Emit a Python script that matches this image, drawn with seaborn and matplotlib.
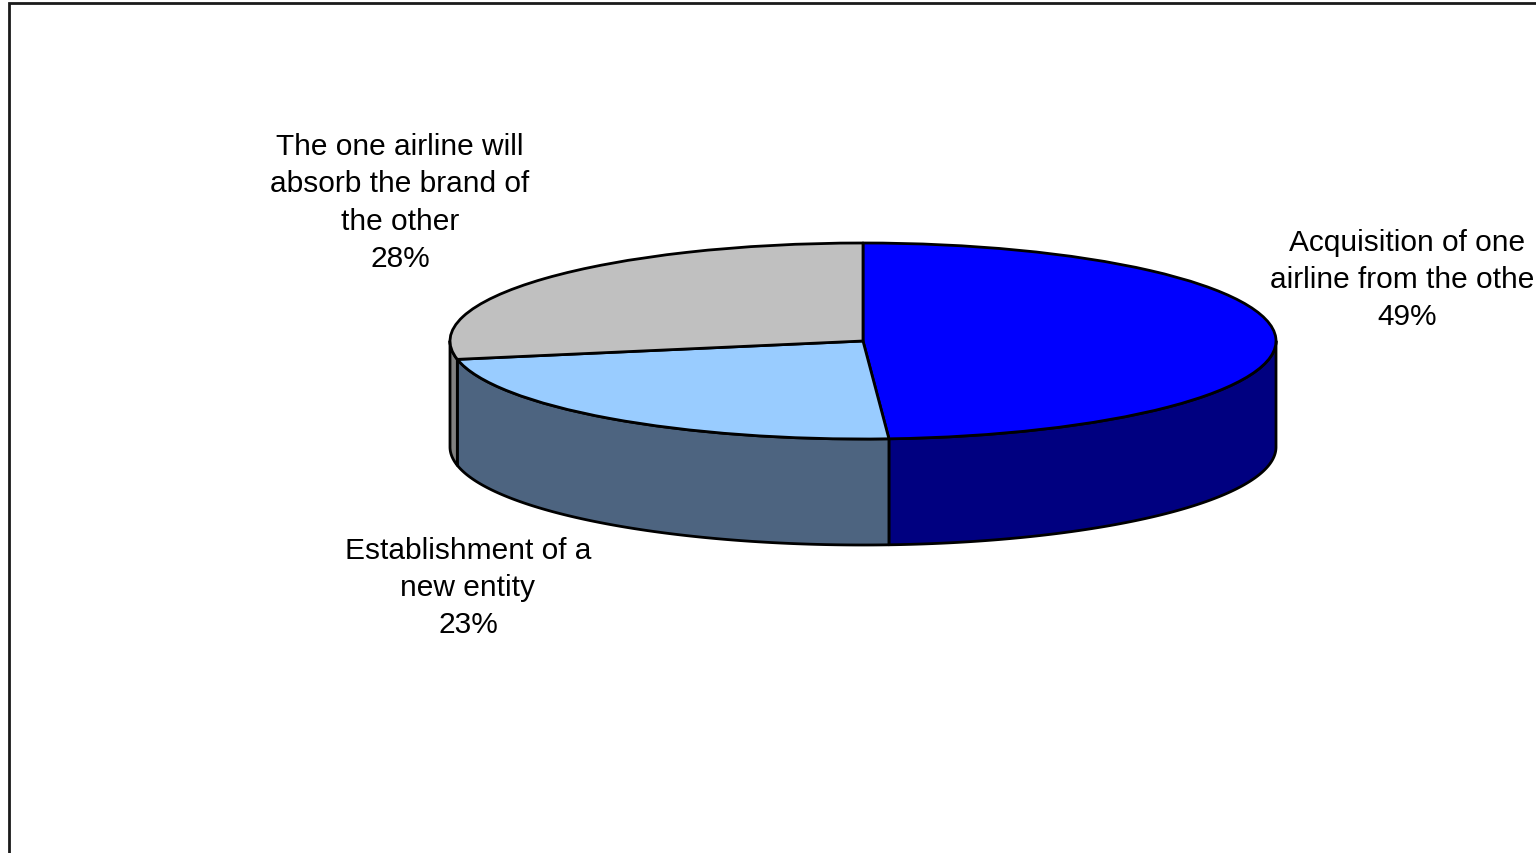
import numpy as np
import matplotlib
matplotlib.use("Agg")
import matplotlib.pyplot as plt
from matplotlib.patches import Polygon, Rectangle
import seaborn as sns

# Survey answers: expected form of an airline merger
categories = [
    "Acquisition of one\nairline from the other",
    "Establishment of a\nnew entity",
    "The one airline will\nabsorb the brand of\nthe other",
]
values = [49, 23, 28]
top_colors = ["#0000FF", "#99CCFF", "#C0C0C0"]
side_colors = ["#000080", "#4D6480", "#808080"]

sns.set_theme(style="white")
plt.rcParams["font.family"] = ["Liberation Sans", "DejaVu Sans"]

W, H, DPI = 1536, 854, 100
fig = plt.figure(figsize=(W / DPI, H / DPI), dpi=DPI)
fig.patch.set_facecolor("white")

# Pie geometry (pixels): centre, horizontal/vertical radii and wall height
cx, cy = 863, 342
rx, ry = 413, 98
depth = 106

ax = fig.add_axes([0, 0, 1, 1])

d = depth / ry
fracs = np.array(values, dtype=float) / sum(values)
bounds = 90 - 360 * np.concatenate([[0], np.cumsum(fracs)])  # math angles, clockwise

# Side walls: only the part of each slice on the front half of the disc
for i in range(len(values)):
    a_hi, a_lo = bounds[i], bounds[i + 1]
    segs = []
    for off in (0, -360, 360):
        lo = max(a_lo + off, -180)
        hi = min(a_hi + off, 0)
        if hi > lo:
            segs.append((lo, hi))
    for lo, hi in segs:
        t = np.radians(np.linspace(lo, hi, 200))
        xs, ys = np.cos(t), np.sin(t)
        pts = np.column_stack([np.concatenate([xs, xs[::-1]]),
                               np.concatenate([ys, ys[::-1] - d])])
        ax.add_patch(Polygon(pts, closed=True, facecolor=side_colors[i],
                             edgecolor="black", linewidth=2, joinstyle="round",
                             zorder=1))

# Top face
wedges, _ = ax.pie(values, colors=top_colors, startangle=90, counterclock=False,
                   radius=1, center=(0, 0), frame=True,
                   wedgeprops=dict(edgecolor="black", linewidth=2, joinstyle="round"))
for w in wedges:
    w.set_zorder(2)
ax.set_xlim((0 - cx) / rx, (W - cx) / rx)
ax.set_ylim((cy - H) / ry, (cy - 0) / ry)
ax.set_aspect("auto")
ax.axis("off")

# Category labels with percentages
label_pos = [(1407, 280), (468, 588), (400, 203)]
for cat, v, (lx, ly) in zip(categories, values, label_pos):
    fig.text(lx / W, 1 - ly / H, f"{cat}\n{v}%", ha="center", va="center",
             fontsize=21.5, color="black", linespacing=1.43, multialignment="center")

# Chart-area frame
fig.add_artist(Rectangle((8.5 / W, -0.1), 1.2, 1 - 3.5 / H + 0.1,
                         transform=fig.transFigure, fill=False,
                         edgecolor="#1a1a1a", linewidth=2, clip_on=False))

fig.savefig("out.png", dpi=DPI, facecolor="white")
